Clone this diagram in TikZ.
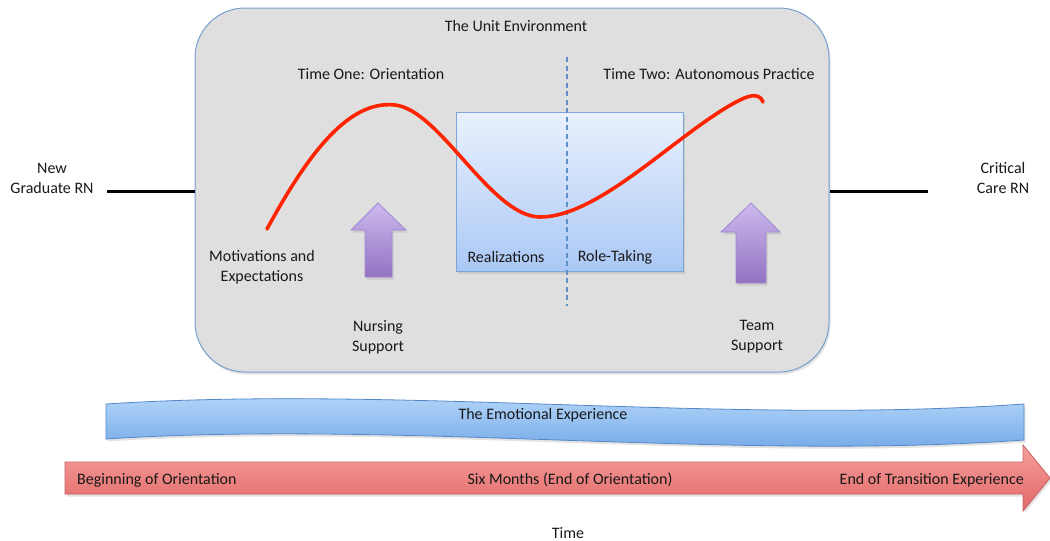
\documentclass[tikz,border=0pt]{standalone}
\usepackage{fontspec}
\setmainfont{Carlito}
\usetikzlibrary{shadows}

\definecolor{envfill}{RGB}{223,223,223}
\definecolor{envline}{RGB}{118,158,205}
\definecolor{boxtop}{RGB}{234,241,253}
\definecolor{boxbot}{RGB}{170,200,245}
\definecolor{boxline}{RGB}{125,165,215}
\definecolor{curve}{RGB}{255,36,0}
\definecolor{dashc}{RGB}{95,145,200}
\definecolor{purtop}{RGB}{205,186,238}
\definecolor{purbot}{RGB}{146,114,194}
\definecolor{purline}{RGB}{160,136,210}
\definecolor{bantop}{RGB}{190,222,252}
\definecolor{banbot}{RGB}{105,160,228}
\definecolor{banline}{RGB}{85,135,200}
\definecolor{redtop}{RGB}{246,160,158}
\definecolor{redbot}{RGB}{226,104,102}
\definecolor{redline}{RGB}{200,95,95}
\definecolor{txt}{RGB}{25,25,25}

\tikzset{
  lbl/.style={text=txt, font=\fontsize{16}{20}\selectfont, inner sep=0pt, align=center},
  softshadow/.style={drop shadow={opacity=0.22, shadow xshift=1.5pt, shadow yshift=-2.5pt}},
  envbox/.style={draw=envline, line width=1pt, fill=envfill, rounded corners=50pt,
    minimum width=634pt, minimum height=364pt, inner sep=0pt, softshadow},
  phasebox/.style={draw=boxline, line width=0.9pt, top color=boxtop, bottom color=boxbot,
    minimum width=227pt, minimum height=159pt, inner sep=0pt, softshadow},
  supportarrow/.style={draw=purline, line width=0.8pt, top color=purtop, bottom color=purbot, softshadow},
  linkline/.style={line width=3pt, black},
  emocurve/.style={draw=curve, line width=3.6pt, line cap=round},
  divider/.style={draw=dashc, line width=1.1pt, dash pattern=on 5pt off 3.5pt},
}

\begin{document}
\begin{tikzpicture}[x=1pt, y=-1pt]
\useasboundingbox (0,0) rectangle (1050,541);

% unit environment
\node[envbox] (env) at (512,190) {};
\node[lbl] (envtitle) at (516,26) {The Unit Environment};

% side labels and their links
\node[lbl] (newrn) at (52,178) {New\\Graduate RN};
\node[lbl] (ccrn) at (1003,178) {Critical\\Care RN};
\coordinate (lstart) at (107,191);
\coordinate (rend) at (928,191);
\draw[linkline] (lstart) -- (lstart -| env.west);
\draw[linkline] (rend -| env.east) -- (rend);

% phase box
\node[phasebox] (phase) at (570,191.5) {};

% time headings
\node[lbl] (t1) at (371,74) {Time One: Orientation};
\node[lbl] (t2) at (709,74) {Time Two: Autonomous Practice};

% divider
\coordinate (dtop) at (567,57);
\coordinate (dbot) at (567,306);
\draw[divider] (dtop) -- (dbot);

% emotional curve
\draw[emocurve] (267,229) .. controls (310,150) and (350,100) .. (395,105)
  .. controls (440,110) and (490,215) .. (539,217)
  .. controls (600,218) and (680,130) .. (740,100)
  .. controls (752,94) and (760,94) .. (763,102);

% phase labels
\node[lbl] (real) at (506,257) {Realizations};
\node[lbl] (role) at (615,257) {Role-Taking};

% stage labels
\node[lbl] (motiv) at (262,267) {Motivations and\\Expectations};
\node[lbl] (nurse) at (378,337) {Nursing\\Support};
\node[lbl] (team) at (757,337) {Team\\Support};

% support arrows
\path[supportarrow] (378,203) -- (406,230) -- (392,230) -- (392,277) -- (365,277) -- (365,230) -- (351,230) -- cycle;
\path[supportarrow] (751,203) -- (780,232) -- (766,232) -- (766,283) -- (736,283) -- (736,232) -- (721,232) -- cycle;

% emotional experience ribbon
\path[draw=banline, line width=0.8pt, top color=bantop, bottom color=banbot, softshadow]
  (106,404) .. controls (400,385) and (730,425) .. (1024,404)
  -- (1024,440) .. controls (730,461) and (400,420) .. (106,439) -- cycle;
\node[lbl] (emo) at (543,415) {The Emotional Experience};

% time arrow
\path[draw=redline, line width=0.8pt, top color=redtop, bottom color=redbot, softshadow]
  (65,462) -- (1023,462) -- (1023,445) -- (1050,478) -- (1023,511) -- (1023,494) -- (65,494) -- cycle;
\node[lbl, anchor=west] (begin) at (77,480) {Beginning of Orientation};
\node[lbl] (six) at (570,480) {Six Months (End of Orientation)};
\node[lbl, anchor=east] (endt) at (1024,480) {End of Transition Experience};

\node[lbl] (time) at (568,533) {Time};
\end{tikzpicture}
\end{document}
